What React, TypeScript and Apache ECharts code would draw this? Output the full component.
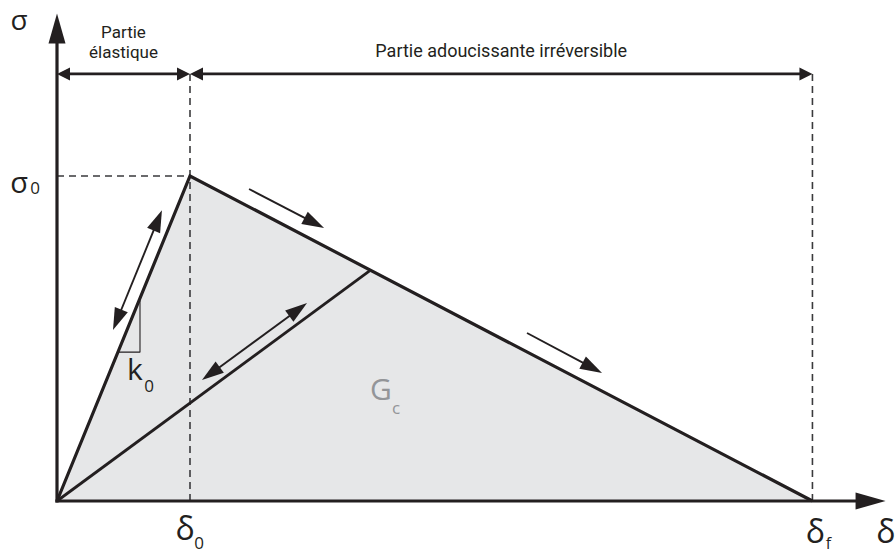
import React, { useEffect, useRef } from "react";
import * as echarts from "echarts";

// ---- data (normalised units: delta0 = 1, sigma0 = 1) ----
const sigma0 = 1.0;
const delta0 = 1.0;
const deltaF = 5.68;
const xAxisMax = 6.3;
const yAxisMax = 1.52;
const xAxisEnd = 6.23;
const yAxisEnd = 1.5;
const dimLevel = 1.314;

const envelope = [
  [0, 0],
  [delta0, sigma0],
  [deltaF, 0],
];
const unloading = [
  [0, 0],
  [2.35, 0.708],
];
const sigma0Guide = [
  [0, sigma0],
  [delta0, sigma0],
];
const delta0Guide = [
  [delta0, 0],
  [delta0, dimLevel],
];
const deltaFGuide = [
  [deltaF, 0],
  [deltaF, dimLevel],
];
const slopeTriangle = [
  [0.466, 0.458],
  [0.624, 0.458],
  [0.624, 0.618],
];

const axisArrows = [
  { from: [0, 0], to: [xAxisEnd, 0] },
  { from: [0, 0], to: [0, yAxisEnd] },
];
const dimArrows = [
  { from: [0, dimLevel], to: [delta0, dimLevel] },
  { from: [delta0, dimLevel], to: [deltaF, dimLevel] },
];
const pathArrows = [
  { from: [0.421, 0.526], to: [0.789, 0.895], both: true },
  { from: [1.09, 0.372], to: [1.88, 0.609], both: true },
  { from: [1.444, 0.96], to: [2.008, 0.84], both: false },
  { from: [3.534, 0.517], to: [4.098, 0.394], both: false },
];

const regionTitles = [
  { text: "Partie", at: [delta0 / 2, dimLevel], dy: -42, size: 17 },
  { text: "élastique", at: [delta0 / 2, dimLevel], dy: -22, size: 17 },
  { text: "Partie adoucissante irréversible", at: [(delta0 + deltaF) / 2, dimLevel], dy: -23, size: 18 },
];

const mathLabels = [
  { main: "σ", sub: "", at: [0, yAxisEnd], dx: -38, dy: 5.5, sdx: 0, sdy: 0, size: 28, subSize: 17, color: "#231f20" },
  { main: "σ", sub: "0", at: [0, sigma0], dx: -38, dy: 5, sdx: -22, sdy: 11, size: 29, subSize: 17, color: "#231f20" },
  { main: "δ", sub: "0", at: [delta0, 0], dx: -5, dy: 26, sdx: 9, sdy: 41, size: 32, subSize: 17, color: "#231f20" },
  { main: "δ", sub: "f", at: [deltaF, 0], dx: 3, dy: 29, sdx: 16, sdy: 41.5, size: 32, subSize: 16, color: "#231f20" },
  { main: "δ", sub: "", at: [xAxisMax, 0], dx: -9, dy: 29, sdx: 0, sdy: 0, size: 32, subSize: 17, color: "#231f20" },
  { main: "k", sub: "0", at: [0.624, 0.458], dx: -5, dy: 16, sdx: 9, sdy: 33, size: 30, subSize: 17, color: "#231f20" },
  { main: "G", sub: "c", at: [2.436, 0.342], dx: 0, dy: -1, sdx: 15, sdy: 18, size: 30, subSize: 17, color: "#939598" },
];

const INK = "#231f20";
const FONT = "Open Sans";
const TITLE_FONT = "Roboto";

function arrowChildren(api: any, from: number[], to: number[], o: any) {
  const a = api.coord(from);
  const b = api.coord(to);
  const dx = b[0] - a[0];
  const dy = b[1] - a[1];
  const L = Math.hypot(dx, dy);
  const ux = dx / L;
  const uy = dy / L;
  const nx = -uy;
  const ny = ux;
  const head = (t: number[], sx: number, sy: number) => ({
    type: "polygon",
    shape: {
      points: [
        [t[0], t[1]],
        [t[0] - sx * o.len + nx * o.half, t[1] - sy * o.len + ny * o.half],
        [t[0] - sx * o.len - nx * o.half, t[1] - sy * o.len - ny * o.half],
      ],
    },
    style: { fill: INK },
  });
  const s = o.both
    ? [a[0] + ux * o.len * 0.8, a[1] + uy * o.len * 0.8]
    : [a[0] - ux * (o.ext || 0), a[1] - uy * (o.ext || 0)];
  const e = [b[0] - ux * o.len * 0.8, b[1] - uy * o.len * 0.8];
  const children: any[] = [
    {
      type: "line",
      shape: { x1: s[0], y1: s[1], x2: e[0], y2: e[1] },
      style: { stroke: INK, lineWidth: o.width },
    },
    head(b, ux, uy),
  ];
  if (o.both) children.push(head(a, -ux, -uy));
  return children;
}

function lineSeries(data: number[][], style: any, z: number, extra: any = {}) {
  return {
    type: "line",
    data,
    symbol: "none",
    silent: true,
    z,
    lineStyle: style,
    ...extra,
  };
}

export default function App() {
  const ref = useRef<HTMLDivElement>(null);
  useEffect(() => {
    if (!ref.current) return;
    const chart = echarts.init(ref.current, undefined, { renderer: "svg" });
    const dashed = { color: "#3a3a3c", width: 1.6, type: [7, 5] };
    chart.setOption({
      animation: false,
      backgroundColor: "#ffffff",
      grid: { left: 57, top: 501 - yAxisMax * 325, width: xAxisMax * 133, height: yAxisMax * 325 },
      xAxis: {
        type: "value",
        min: 0,
        max: xAxisMax,
        axisLine: { show: false },
        axisTick: { show: false },
        axisLabel: { show: false },
        splitLine: { show: false },
      },
      yAxis: {
        type: "value",
        min: 0,
        max: yAxisMax,
        axisLine: { show: false },
        axisTick: { show: false },
        axisLabel: { show: false },
        splitLine: { show: false },
      },
      series: [
        lineSeries(envelope, { width: 0, opacity: 0 }, 1, {
          areaStyle: { color: "#e6e7e8", opacity: 1 },
        }),
        lineSeries(sigma0Guide, dashed, 2),
        lineSeries(delta0Guide, dashed, 2),
        lineSeries(deltaFGuide, dashed, 2),
        lineSeries(envelope, { color: INK, width: 3.2, join: "miter" }, 3),
        lineSeries(unloading, { color: INK, width: 2.8 }, 3),
        lineSeries(slopeTriangle, { color: INK, width: 1.1 }, 3),
        {
          type: "custom",
          z: 4,
          silent: true,
          clip: false,
          data: axisArrows.map((a) => a.from),
          renderItem: (params: any, api: any) => {
            const a = axisArrows[params.dataIndex];
            return {
              type: "group",
              children: arrowChildren(api, a.from, a.to, { len: 30, half: 8.5, width: 3.2, both: false, ext: 1.6 }),
            };
          },
        },
        {
          type: "custom",
          z: 4,
          silent: true,
          clip: false,
          data: dimArrows.map((a) => a.from),
          renderItem: (params: any, api: any) => {
            const a = dimArrows[params.dataIndex];
            return {
              type: "group",
              children: arrowChildren(api, a.from, a.to, { len: 13, half: 6.5, width: 2.8, both: true }),
            };
          },
        },
        {
          type: "custom",
          z: 4,
          silent: true,
          clip: false,
          data: pathArrows.map((a) => a.from),
          renderItem: (params: any, api: any) => {
            const a = pathArrows[params.dataIndex];
            return {
              type: "group",
              children: arrowChildren(api, a.from, a.to, { len: 22, half: 7, width: 1.9, both: a.both }),
            };
          },
        },
        {
          type: "custom",
          z: 5,
          silent: true,
          clip: false,
          data: regionTitles.map((t) => t.at),
          renderItem: (params: any, api: any) => {
            const t = regionTitles[params.dataIndex];
            const p = api.coord(t.at);
            return {
              type: "text",
              x: p[0],
              y: p[1] + t.dy,
              style: {
                text: t.text,
                fill: INK,
                fontSize: t.size,
                lineHeight: t.size,
                fontFamily: TITLE_FONT,
                align: "center",
                verticalAlign: "middle",
              },
            };
          },
        },
        {
          type: "custom",
          z: 5,
          silent: true,
          clip: false,
          data: mathLabels.map((t) => t.at),
          renderItem: (params: any, api: any) => {
            const t = mathLabels[params.dataIndex];
            const p = api.coord(t.at);
            const children: any[] = [
              {
                type: "text",
                x: p[0] + t.dx,
                y: p[1] + t.dy,
                style: {
                  text: t.main,
                  fill: t.color,
                  fontSize: t.size,
                  lineHeight: t.size,
                  fontFamily: FONT,
                  align: "center",
                  verticalAlign: "middle",
                },
              },
            ];
            if (t.sub) {
              children.push({
                type: "text",
                x: p[0] + t.sdx,
                y: p[1] + t.sdy,
                style: {
                  text: t.sub,
                  fill: t.color,
                  fontSize: t.subSize,
                  lineHeight: t.subSize,
                  fontFamily: FONT,
                  align: "center",
                  verticalAlign: "middle",
                },
              });
            }
            return { type: "group", children };
          },
        },
      ],
    });
    return () => chart.dispose();
  }, []);
  return (
    <div
      ref={ref}
      style={{ position: "fixed", left: 0, top: 0, width: 896, height: 553, background: "#fff" }}
    />
  );
}
